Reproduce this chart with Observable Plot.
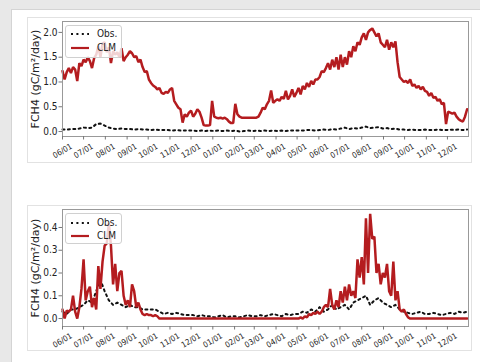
<!DOCTYPE html>
<html>
<head>
<meta charset="utf-8">
<script src="https://cdn.jsdelivr.net/npm/d3@7"></script>
<script src="https://cdn.jsdelivr.net/npm/@observablehq/plot@0.6"></script>
<style>
html,body{margin:0;padding:0;width:480px;height:362px;overflow:hidden;background:#e8e8e8;}
#card{position:absolute;left:11px;top:9px;right:0;bottom:0;background:#fff;border-left:1px solid #d4d4d4;border-top:1px solid #d4d4d4;}
.panel{position:absolute;left:27px;width:445px;height:146px;box-shadow:inset 0 0 0 1px #e2e2e2;}
.panel svg{position:absolute;left:0;top:0;}
.legend{position:absolute;left:38px;top:8px;width:57px;border:1px solid #d0d0d0;border-radius:3px;background:rgba(255,255,255,0.8);box-sizing:border-box;font-family:"DejaVu Sans Condensed","DejaVu Sans",sans-serif;font-stretch:condensed;font-size:10px;color:#222;}
.legend .row{position:absolute;left:0;height:12px;line-height:12px;}
.legend .row svg{position:absolute;left:4px;top:0;}
.legend .row span{position:absolute;left:31px;top:0;white-space:nowrap;}
</style>
</head>
<body>
<div id="card"></div>
<div class="panel" id="p1" style="top:17px"></div>
<div class="panel" id="p2" style="top:205px"></div>
<script>
// ---- data ----
const seriesNames = ["Obs.", "CLM"];
const yLabel = "FCH4 (gC/m\u00b2/day)";
const startDate = "2017-06-01";
const endDate = "2018-12-31";
const clmStepDays = 3;   // CLM values read every 3 days
const obsStepDays = 6;   // Obs values read every 6 days
const tickMonths = ["2017-06-01","2017-07-01","2017-08-01","2017-09-01","2017-10-01","2017-11-01","2017-12-01",
  "2018-01-01","2018-02-01","2018-03-01","2018-04-01","2018-05-01","2018-06-01","2018-07-01","2018-08-01",
  "2018-09-01","2018-10-01","2018-11-01","2018-12-01"];
const yTicksTop = [0, 0.5, 1.0, 1.5, 2.0];
const yTicksBottom = [0, 0.1, 0.2, 0.3, 0.4];

// top panel, CLM
const clmTop = [
  1.22,1.05,1.2,1.28,1.18,1.3,1.25,1.02,1.38,1.32,
  1.45,1.4,1.5,1.42,1.28,1.48,1.55,1.72,1.5,1.78,
  1.8,1.6,1.7,1.38,1.62,1.55,1.6,1.5,1.68,1.42,1.5,
  1.55,1.62,1.58,1.5,1.52,1.4,1.45,1.3,1.2,1.22,
  1.05,0.98,0.93,0.9,0.85,0.88,0.78,0.76,0.8,0.78,
  0.85,0.88,0.62,0.55,0.48,0.45,0.18,0.35,0.3,0.38,
  0.42,0.3,0.36,0.45,0.4,0.28,0.13,0.12,0.12,0.13,
  0.62,0.3,0.28,0.27,0.28,0.26,0.28,0.25,0.2,0.17,0.17,
  0.56,0.35,0.3,0.28,0.28,0.28,0.28,0.28,0.28,
  0.28,0.28,0.3,0.38,0.48,0.45,0.55,0.62,0.83,0.58,0.62,
  0.65,0.62,0.7,0.66,0.82,0.65,0.72,0.85,0.7,0.78,
  0.88,0.75,0.92,0.85,0.98,0.9,1.02,0.95,1.05,1.05,
  1.1,1.22,1.2,1.28,1.38,1.25,1.45,1.3,1.5,1.25,
  1.55,1.3,1.5,1.35,1.62,1.5,1.72,1.62,1.8,1.75,
  1.9,1.98,1.85,2.0,2.05,2.08,2.0,1.92,1.98,1.8,1.75,
  1.7,1.85,1.65,1.8,1.7,1.82,1.4,1.1,1.05,1.0,
  1.02,0.98,1.05,0.92,0.95,0.88,0.92,0.85,0.9,0.82,
  0.8,0.72,0.78,0.68,0.7,0.62,0.65,0.55,0.58,0.15,
  0.4,0.38,0.36,0.38,0.3,0.25,0.22,0.2,0.3,0.45
];
// top panel, Obs
const obsTop = [
  0.04,0.04,0.05,0.05,0.06,
  0.08,0.07,0.08,0.15,0.16,
  0.12,0.08,0.06,0.05,0.06,0.05,
  0.05,0.04,0.05,0.04,0.04,
  0.03,0.04,0.03,0.03,0.03,
  0.02,0.03,0.02,0.02,0.02,
  0.02,0.01,0.02,0.01,0.02,
  0.01,0.02,0.01,0.02,0.01,
  0.02,0.0,0.01,0.02,0.01,
  0.02,0.01,0.02,0.01,0.02,
  0.01,0.02,0.01,0.02,0.02,
  0.02,0.02,0.03,0.03,0.02,
  0.03,0.04,0.03,0.05,0.04,
  0.06,0.08,0.05,0.07,0.06,
  0.08,0.1,0.07,0.08,0.09,0.06,
  0.07,0.05,0.06,0.04,0.04,
  0.03,0.04,0.03,0.03,0.04,
  0.03,0.03,0.04,0.03,0.03,
  0.04,0.03,0.04,0.03,0.04
];
// bottom panel, CLM
const clmBottom = [
  0.04,0.0,0.035,0.03,0.04,0.1,0.03,0.0,0.05,0.13,
  0.26,0.08,0.12,0.14,0.05,0.09,0.04,0.23,0.13,0.25,
  0.32,0.33,0.42,0.32,0.15,0.24,0.12,0.2,0.21,0.1,0.06,
  0.08,0.05,0.15,0.12,0.05,0.07,0.04,0.02,0.015,0.02,
  0.015,0.015,0.01,0.015,0.01,0.0,0.0,0.0,0.0,0.0,
  0,0,0,0,0,0,0,0,0,0,
  0,0,0,0,0,0,0,0,0,0,
  0,0,0,0,0,0,0,0,0,0,0,
  0,0,0,0,0,0,0,0,0,
  0,0,0,0,0,0,0,0,0,0,0,
  0,0,0,0,0,0,0,0,0,0,
  0.0,0.005,0.0,0.01,0.005,0.02,0.015,0.025,0.02,0.03,
  0.02,0.03,0.05,0.06,0.05,0.13,0.06,0.04,0.08,0.05,
  0.12,0.07,0.14,0.08,0.15,0.1,0.12,0.09,0.26,0.18,
  0.27,0.15,0.44,0.2,0.46,0.35,0.36,0.2,0.24,0.15,0.2,
  0.18,0.24,0.12,0.1,0.25,0.08,0.12,0.04,0.03,0.04,
  0.02,0.005,0,0,0,0,0,0,0,0,
  0,0,0,0,0,0,0,0,0,0,
  0,0,0,0,0,0,0,0,0,0
];
// bottom panel, Obs
const obsBottom = [
  0.03,0.02,0.04,0.04,0.05,
  0.06,0.08,0.07,0.12,0.17,
  0.12,0.08,0.06,0.07,0.06,0.05,
  0.06,0.05,0.05,0.04,0.04,
  0.04,0.04,0.03,0.02,0.025,
  0.02,0.025,0.02,0.015,0.015,
  0.015,0.01,0.015,0.01,0.01,
  0.005,0.01,0.015,0.005,0.01,
  0.01,0.005,0.01,0.015,0.01,
  0.01,0.015,0.01,0.015,0.02,
  0.015,0.01,0.02,0.015,0.02,
  0.02,0.03,0.025,0.04,0.03,
  0.05,0.03,0.04,0.06,0.04,
  0.05,0.06,0.04,0.07,0.08,
  0.09,0.1,0.06,0.08,0.09,0.07,
  0.06,0.05,0.06,0.04,0.03,
  0.025,0.02,0.025,0.03,0.02,
  0.02,0.025,0.02,0.015,0.02,
  0.025,0.02,0.03,0.025,0.03
];

// ---- build ----
const t0 = d3.utcParse("%Y-%m-%d")(startDate);
const t1 = d3.utcParse("%Y-%m-%d")(endDate);
const ticks = tickMonths.map(d3.utcParse("%Y-%m-%d"));
const toRows = (vals, step) => vals.map((v, i) => ({date: d3.utcDay.offset(t0, step * i), value: v}));

const RED = "#b41c1f";
const FONT = '"DejaVu Sans Condensed","DejaVu Sans",sans-serif';

function panel(el, clm, obs, yDomain, yTicks, mb, pad) {
  const chart = Plot.plot({
    width: 445, height: 146,
    marginLeft: 35, marginTop: 4, marginRight: 4, marginBottom: mb,
    x: {type: "utc", domain: [t0, t1]},
    y: {domain: yDomain},
    style: {fontFamily: FONT, fontSize: "10px", color: "#222", background: "transparent", overflow: "visible"},
    marks: [
      Plot.lineY(toRows(obs, obsStepDays), {x: "date", y: "value", stroke: "#111", strokeWidth: 2, strokeDasharray: "2,3.4"}),
      Plot.lineY(toRows(clm, clmStepDays), {x: "date", y: "value", stroke: RED, strokeWidth: 2.5, strokeLinejoin: "miter"}),
      Plot.frame({stroke: "#999", strokeWidth: 1}),
      Plot.axisY({ticks: yTicks, tickFormat: d3.format(".1f"), tickSize: 3.5, tickPadding: 1.5, fontSize: 10, stroke: "#777", label: null}),
      Plot.axisX({ticks: ticks, tickFormat: d3.utcFormat("%m/%d"), tickSize: 3.5, tickPadding: pad, tickRotate: -30,
        textAnchor: "middle", lineAnchor: "middle", fontSize: 8, stroke: "#777", label: null}),
      Plot.text([yLabel], {frameAnchor: "left", textAnchor: "middle", lineAnchor: "middle", rotate: -90, dx: -27, fontSize: 11, fontFamily: "DejaVu Sans", fill: "#222"})
    ]
  });
  el.appendChild(chart);
}

panel(document.getElementById("p1"), clmTop, obsTop, [-0.1, 2.22], yTicksTop, 27, 11);
panel(document.getElementById("p2"), clmBottom, obsBottom, [-0.035, 0.479], yTicksBottom, 25, 10.5);

function legend(el, top, h, r1, r2) {
  const lg = document.createElement("div");
  lg.className = "legend";
  lg.style.top = top + "px";
  lg.style.height = h + "px";
  const rows = [
    {name: seriesNames[0], y: r1, stroke: "#111", dash: "2,3.4"},
    {name: seriesNames[1], y: r2, stroke: RED, dash: null}
  ];
  for (const r of rows) {
    const row = document.createElement("div");
    row.className = "row";
    row.style.top = (r.y - 6) + "px";
    row.style.width = "100%";
    const svg = d3.create("svg").attr("width", 20).attr("height", 12);
    svg.append("line").attr("x1", 1).attr("x2", 19).attr("y1", 6).attr("y2", 6)
      .attr("stroke", r.stroke).attr("stroke-width", 2.2).attr("stroke-dasharray", r.dash);
    row.appendChild(svg.node());
    const sp = document.createElement("span");
    sp.textContent = r.name;
    row.appendChild(sp);
    lg.appendChild(row);
  }
  el.appendChild(lg);
}
legend(document.getElementById("p1"), 8, 33, 8, 22);
legend(document.getElementById("p2"), 8, 31, 9, 22);
</script>
</body>
</html>
